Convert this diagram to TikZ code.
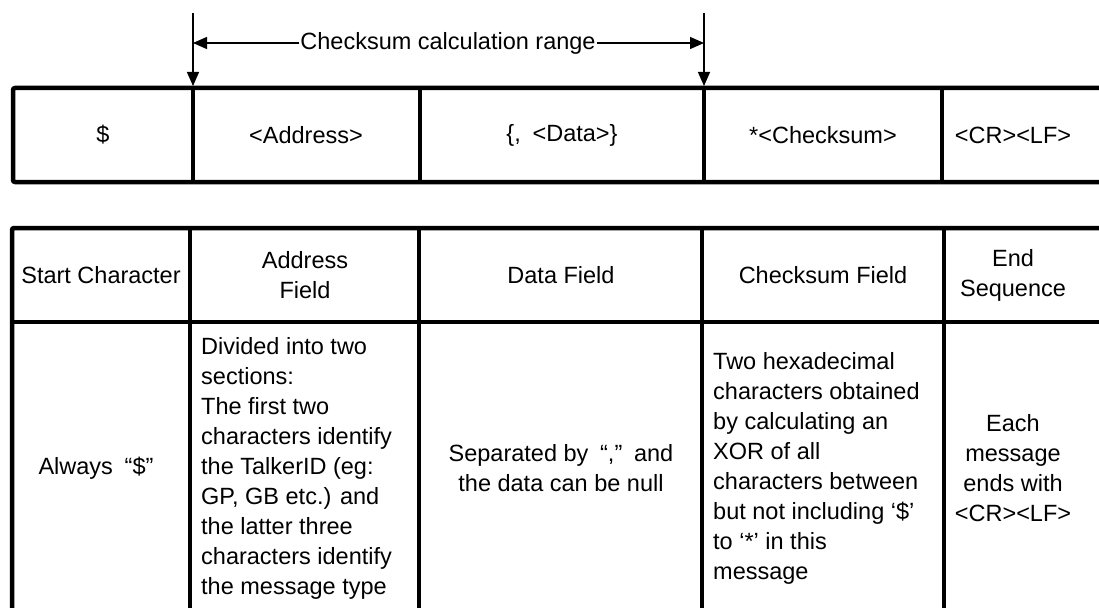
\documentclass[tikz,border=0pt]{standalone}
\usepackage{fontspec}
\setmainfont{Liberation Sans}
\usepackage{tikz}
\usetikzlibrary{calc, arrows.meta, positioning}

\begin{document}
\begin{tikzpicture}[x=1pt, y=-1pt, >={Triangle[length=14pt, width=12pt]},
	font=\fontsize{23.5}{30}\selectfont]
	\tikzstyle{frame} = [line width=4.5pt, line join=round]
	\tikzstyle{ptr} = [draw, line width=1.3pt, ->]
	\tikzstyle{cell} = [inner sep=0pt, align=center]
	\tikzstyle{note} = [inner sep=0pt, align=left, anchor=west]

	\useasboundingbox (0, 0) rectangle (1099, 607);
	\clip (0, 0) rectangle (1099, 607);

	% frame layout
	\draw[frame, rounded corners=2pt] (13, 88) rectangle (1140, 182);
	\foreach \x in {193, 420, 704, 942}
		\draw[frame] (\x, 88) -- (\x, 182);

	\node[cell]	at (103, 135)	(s0)	{\$};
	\node[cell]	at (306, 135)	(s1)	{<Address>};
	\node[cell]	at (562, 135)	(s2)	{\{,\enspace <Data>\}};
	\node[cell]	at (823, 135)	(s3)	{*<Checksum>};
	\node[cell]	at (1013, 135)	(s4)	{<CR><LF>};

	% checksum range
	\coordinate (r0) at (193, 13);
	\coordinate (r1) at (193, 86);
	\coordinate (r2) at (704, 13);
	\coordinate (r3) at (704, 86);
	\node[cell, inner sep=1pt] at (448, 43) (range) {Checksum calculation range};

	\path
	(r0) edge[ptr] (r1)
	(r2) edge[ptr] (r3)
	(range.west) edge[ptr] (range.west -| r0)
	(range.east) edge[ptr] (range.east -| r2);

	% description table
	\draw[frame, rounded corners=2pt] (12, 640) -- (12, 228) -- (1140, 228);
	\draw[frame] (12, 322) -- (1140, 322);
	\foreach \x in {190, 419, 702, 944}
		\draw[frame] (\x, 228) -- (\x, 640);

	\node[cell]	at (101, 275)	(h0)	{Start Character};
	\node[cell]	at (305, 275)	(h1)	{Address\\Field};
	\node[cell]	at (561, 275)	(h2)	{Data Field};
	\node[cell]	at (823, 275)	(h3)	{Checksum Field};
	\node[cell]	at (1013, 275)	(h4)	{End\\Sequence};

	\node[cell]	at (96, 468)	(d0)	{Always\enspace “\$”};
	\node[note]	at (201, 468)	(d1)	{Divided into two\\sections:\\The first two\\characters identify\\the TalkerID (eg:\\GP, GB etc.) and\\the latter three\\characters identify\\the message type};
	\node[cell]	at (561, 468)	(d2)	{Separated by\enspace “,”\enspace and\\the data can be null};
	\node[note]	at (713, 468)	(d3)	{Two hexadecimal\\characters obtained\\by calculating an\\XOR of all\\characters between\\but not including ‘\$’\\to ‘*’ in this\\message};
	\node[cell]	at (1013, 468)	(d4)	{Each\\message\\ends with\\<CR><LF>};

\end{tikzpicture}
\end{document}
